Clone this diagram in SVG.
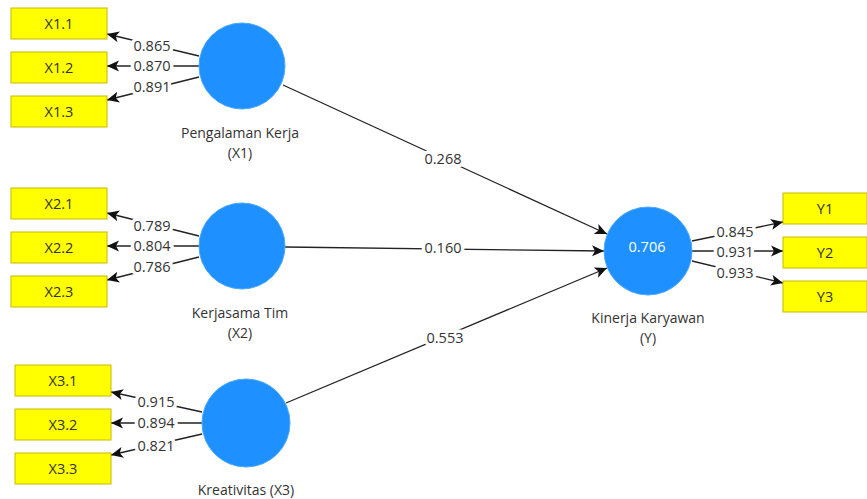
<svg xmlns="http://www.w3.org/2000/svg" width="867" height="499" viewBox="0 0 867 499">
<defs>
<style>
.box{fill:#ffff00;stroke:#c9b800;stroke-width:1}
.lv{fill:#1e90ff;stroke:#4aa8ff;stroke-width:1}
.bt{font-family:"Open Sans","Liberation Sans",sans-serif;font-size:14.5px;fill:#333;text-anchor:middle}
.nl{font-family:"Open Sans","Liberation Sans",sans-serif;font-size:14px;fill:#333;text-anchor:middle}
.el{font-family:"Open Sans","Liberation Sans",sans-serif;font-size:14.5px;fill:#333;text-anchor:middle;paint-order:stroke;stroke:#fff;stroke-width:7px;stroke-linejoin:round}
.r2{font-family:"Open Sans","Liberation Sans",sans-serif;font-size:14.5px;fill:#fff;text-anchor:middle}
.ln{stroke:#222;stroke-width:1.3;fill:none;marker-end:url(#ah)}
</style>
<marker id="ah" markerUnits="userSpaceOnUse" markerWidth="14" markerHeight="12" refX="12" refY="6" orient="auto">
<path d="M0,0.5 L12,6 L0,11.5 L3,6 Z" fill="#111"/>
</marker>
</defs>
<rect width="867" height="499" fill="#fff"/>
<g id="connectors">
<line class="ln" x1="199" y1="56" x2="107" y2="34"/>
<line class="ln" x1="199" y1="66" x2="107" y2="66"/>
<line class="ln" x1="199" y1="77" x2="107" y2="100"/>
<line class="ln" x1="199" y1="236" x2="107" y2="213"/>
<line class="ln" x1="199" y1="246" x2="107" y2="246"/>
<line class="ln" x1="199" y1="257" x2="107" y2="280"/>
<line class="ln" x1="202" y1="412" x2="111" y2="392"/>
<line class="ln" x1="202" y1="423" x2="111" y2="423"/>
<line class="ln" x1="202" y1="434" x2="111" y2="455"/>
<line class="ln" x1="692" y1="241" x2="783" y2="222"/>
<line class="ln" x1="692" y1="251" x2="783" y2="251"/>
<line class="ln" x1="692" y1="261" x2="783" y2="283"/>
<line class="ln" x1="283" y1="85" x2="607" y2="234"/>
<line class="ln" x1="285" y1="247" x2="604" y2="251"/>
<line class="ln" x1="286" y1="403" x2="607" y2="268"/>
<text class="el" x="152" y="51">0.865</text>
<text class="el" x="152" y="71">0.870</text>
<text class="el" x="152" y="92">0.891</text>
<text class="el" x="152" y="231">0.789</text>
<text class="el" x="152" y="251">0.804</text>
<text class="el" x="152" y="272">0.786</text>
<text class="el" x="156" y="407">0.915</text>
<text class="el" x="156" y="428">0.894</text>
<text class="el" x="156" y="451">0.821</text>
<text class="el" x="735" y="237">0.845</text>
<text class="el" x="735" y="257">0.931</text>
<text class="el" x="735" y="278">0.933</text>
<text class="el" x="443" y="164">0.268</text>
<text class="el" x="443" y="253">0.160</text>
<text class="el" x="445" y="343">0.553</text>
</g>
<g id="X1.1"><rect class="box" x="11" y="8" width="96" height="31"/><text class="bt" x="59" y="28.5">X1.1</text></g>
<g id="X1.2"><rect class="box" x="11" y="52" width="96" height="31"/><text class="bt" x="59" y="72.5">X1.2</text></g>
<g id="X1.3"><rect class="box" x="11" y="96" width="96" height="31"/><text class="bt" x="59" y="116.5">X1.3</text></g>
<g id="X2.1"><rect class="box" x="11" y="188" width="96" height="31"/><text class="bt" x="59" y="208.5">X2.1</text></g>
<g id="X2.2"><rect class="box" x="11" y="232" width="96" height="31"/><text class="bt" x="59" y="252.5">X2.2</text></g>
<g id="X2.3"><rect class="box" x="11" y="276" width="96" height="31"/><text class="bt" x="59" y="296.5">X2.3</text></g>
<g id="X3.1"><rect class="box" x="15" y="365" width="96" height="31"/><text class="bt" x="63" y="385.5">X3.1</text></g>
<g id="X3.2"><rect class="box" x="15" y="409" width="96" height="31"/><text class="bt" x="63" y="429.5">X3.2</text></g>
<g id="X3.3"><rect class="box" x="15" y="453" width="96" height="31"/><text class="bt" x="63" y="473.5">X3.3</text></g>
<g id="Y1"><rect class="box" x="783" y="193" width="84" height="31"/><text class="bt" x="825" y="213.5">Y1</text></g>
<g id="Y2"><rect class="box" x="783" y="237" width="84" height="31"/><text class="bt" x="825" y="257.5">Y2</text></g>
<g id="Y3"><rect class="box" x="783" y="281" width="84" height="31"/><text class="bt" x="825" y="301.5">Y3</text></g>
<g id="X1"><circle class="lv" cx="242" cy="66" r="43"/><text class="nl" x="240" y="138">Pengalaman Kerja</text><text class="nl" x="240" y="158">(X1)</text></g>
<g id="X2"><circle class="lv" cx="242" cy="246" r="43"/><text class="nl" x="240" y="318">Kerjasama Tim</text><text class="nl" x="240" y="338">(X2)</text></g>
<g id="X3"><circle class="lv" cx="246" cy="423" r="44"/><text class="nl" x="246" y="495">Kreativitas (X3)</text></g>
<g id="Y"><circle class="lv" cx="648" cy="251" r="44"/><text class="r2" x="647" y="252">0.706</text><text class="nl" x="648" y="323">Kinerja Karyawan</text><text class="nl" x="648" y="343">(Y)</text></g>
</svg>
